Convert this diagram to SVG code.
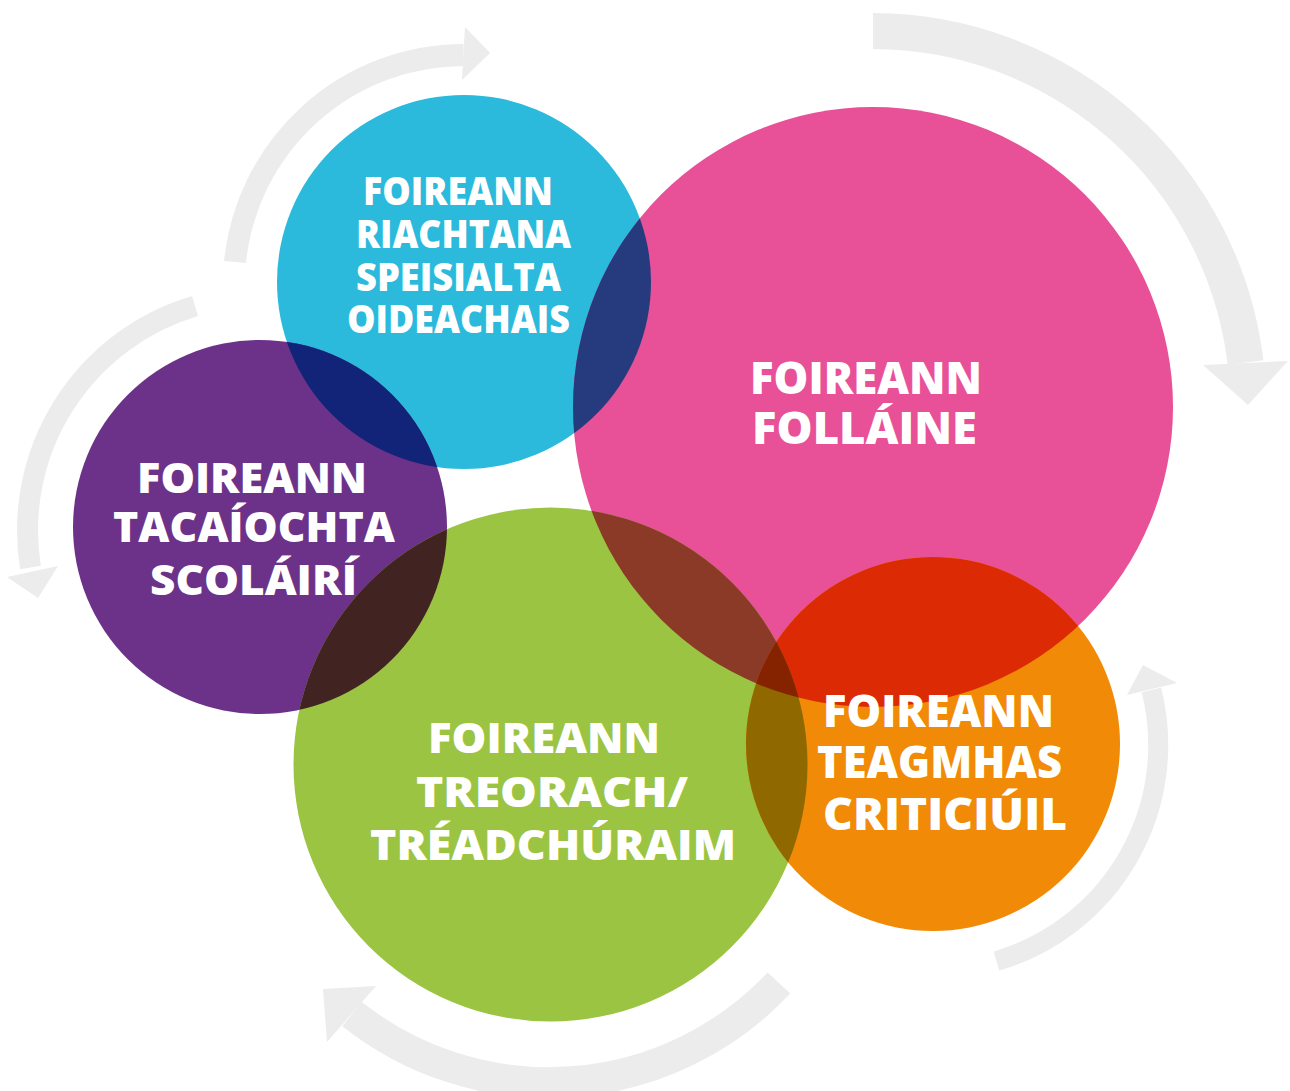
<svg xmlns="http://www.w3.org/2000/svg" width="1290" height="1091" viewBox="0 0 1290 1091">
<style>
.arc{fill:none;stroke:#ececec;stroke-linecap:butt}
.head{fill:#ececec}
.lbl{font-family:"Open Sans","Liberation Sans",sans-serif;font-weight:800;fill:#ffffff}
</style>
<defs>
<clipPath id="cBlue"><circle cx="464" cy="282" r="187"/></clipPath>
<clipPath id="cPink"><circle cx="873" cy="407" r="300"/></clipPath>
<clipPath id="cPurple"><circle cx="260" cy="527" r="187"/></clipPath>
<clipPath id="cGreen"><circle cx="550.5" cy="764.5" r="257"/></clipPath>
<clipPath id="cOrange"><circle cx="933" cy="744" r="187"/></clipPath>
</defs>
<g id="connectors">
<path class="arc" stroke-width="22" d="M235,262 A230,230 0 0 1 463.5,55"/>
<polygon class="head" points="465,27 490,53 462,80"/>
<path class="arc" stroke-width="36" d="M873,31 A376,376 0 0 1 1245.5,362.5"/>
<polygon class="head" points="1203,365 1288,361 1248,405"/>
<path class="arc" stroke-width="21" d="M195,306 A234,234 0 0 0 30.5,567.5"/>
<polygon class="head" points="7,577 58,566 38,598"/>
<path class="arc" stroke-width="20" d="M996.5,961 A225,225 0 0 0 1151.4,690"/>
<polygon class="head" points="1127,695 1143,665 1177,683"/>
<path class="arc" stroke-width="31" d="M779,983 A316,316 0 0 1 352,1014"/>
<polygon class="head" points="376,986 323,989 327,1042"/>
</g>
<g id="node-blue"><circle cx="464" cy="282" r="187" fill="#2bb9dc"/></g>
<g id="node-pink"><circle cx="873" cy="407" r="300" fill="#e85097"/></g>
<g id="node-purple"><circle cx="260" cy="527" r="187" fill="#6c3289"/></g>
<g id="node-green"><circle cx="550.5" cy="764.5" r="257" fill="#9bc442"/></g>
<g id="node-orange"><circle cx="933" cy="744" r="187" fill="#f08a07"/></g>
<g id="overlaps">
<g clip-path="url(#cBlue)"><circle cx="873" cy="407" r="300" fill="#263a7e"/></g>
<g clip-path="url(#cBlue)"><circle cx="260" cy="527" r="187" fill="#122477"/></g>
<g clip-path="url(#cPurple)"><circle cx="550.5" cy="764.5" r="257" fill="#412422"/></g>
<g clip-path="url(#cPink)"><circle cx="550.5" cy="764.5" r="257" fill="#8a3a26"/></g>
<g clip-path="url(#cPink)"><circle cx="933" cy="744" r="187" fill="#dc2b04"/></g>
<g clip-path="url(#cGreen)"><circle cx="933" cy="744" r="187" fill="#8f6800"/></g>
<g clip-path="url(#cPink)"><g clip-path="url(#cGreen)"><circle cx="933" cy="744" r="187" fill="#852200"/></g></g>
</g>
<g id="labels">
<g id="label-blue" class="lbl" font-size="38">
<text x="363" y="205" textLength="190" lengthAdjust="spacingAndGlyphs">FOIREANN</text>
<text x="356" y="248" textLength="215" lengthAdjust="spacingAndGlyphs">RIACHTANA</text>
<text x="356" y="291" textLength="205" lengthAdjust="spacingAndGlyphs">SPEISIALTA</text>
<text x="347" y="333" textLength="223" lengthAdjust="spacingAndGlyphs">OIDEACHAIS</text>
</g>
<g id="label-pink" class="lbl" font-size="44">
<text x="750" y="394" textLength="232" lengthAdjust="spacingAndGlyphs">FOIREANN</text>
<text x="752" y="444" textLength="225" lengthAdjust="spacingAndGlyphs">FOLLÁINE</text>
</g>
<g id="label-purple" class="lbl" font-size="43">
<text x="137" y="493" textLength="230" lengthAdjust="spacingAndGlyphs">FOIREANN</text>
<text x="113" y="542" textLength="282" lengthAdjust="spacingAndGlyphs">TACAÍOCHTA</text>
<text x="150" y="595" textLength="207" lengthAdjust="spacingAndGlyphs">SCOLÁIRÍ</text>
</g>
<g id="label-green" class="lbl" font-size="43">
<text x="428" y="753" textLength="232" lengthAdjust="spacingAndGlyphs">FOIREANN</text>
<text x="416" y="807" textLength="272" lengthAdjust="spacingAndGlyphs">TREORACH/</text>
<text x="370" y="860" textLength="366" lengthAdjust="spacingAndGlyphs">TRÉADCHÚRAIM</text>
</g>
<g id="label-orange" class="lbl" font-size="45">
<text x="823" y="727" textLength="231" lengthAdjust="spacingAndGlyphs">FOIREANN</text>
<text x="817" y="778" textLength="245" lengthAdjust="spacingAndGlyphs">TEAGMHAS</text>
<text x="823" y="830" textLength="244" lengthAdjust="spacingAndGlyphs">CRITICIÚIL</text>
</g>
</g>
</svg>
